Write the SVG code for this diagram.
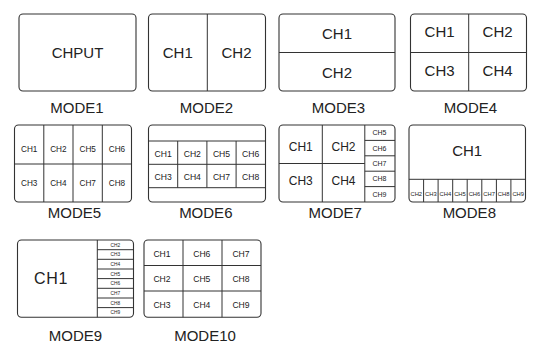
<svg xmlns="http://www.w3.org/2000/svg" width="556" height="349" viewBox="0 0 556 349">
<style>
.box{fill:#fff;stroke:#333;stroke-width:1.1}
.ln{stroke:#333;stroke-width:1;fill:none}
.t{font-family:"Liberation Sans",Arial,sans-serif;fill:#222;text-anchor:middle}
.cap{font-size:15px}
.big{font-size:15px}
.md{font-size:12px}
.sm{font-size:8.2px}
.xs{font-size:7px}
.xxs{font-size:5.8px}
.tiny{font-size:4.8px}
</style>
<rect width="556" height="349" fill="#fff"/>
<g id="mode1">
<rect class="box" x="19" y="14" width="117" height="77" rx="4"/>
<text class="t big" x="77.5" y="57.8">CHPUT</text>
<text class="t cap" x="77" y="112.5">MODE1</text>
</g>
<g id="mode2">
<rect class="box" x="148.5" y="14" width="117" height="77" rx="4"/>
<path class="ln" d="M207.3 14V91"/>
<text class="t big" x="177.8" y="57.8">CH1</text>
<text class="t big" x="236.5" y="57.8">CH2</text>
<text class="t cap" x="206.5" y="112.5">MODE2</text>
</g>
<g id="mode3">
<rect class="box" x="279" y="14" width="116" height="77" rx="4"/>
<path class="ln" d="M279 52.5H395"/>
<text class="t big" x="337" y="39.3">CH1</text>
<text class="t big" x="337" y="77.8">CH2</text>
<text class="t cap" x="338.5" y="112.5">MODE3</text>
</g>
<g id="mode4">
<rect class="box" x="410.5" y="14" width="116" height="77" rx="4"/>
<path class="ln" d="M468.7 14V91M410.5 52.5H526.5"/>
<text class="t big" x="439.6" y="37">CH1</text>
<text class="t big" x="497.6" y="37">CH2</text>
<text class="t big" x="439.6" y="75.5">CH3</text>
<text class="t big" x="497.6" y="75.5">CH4</text>
<text class="t cap" x="470.5" y="112.5">MODE4</text>
</g>
<g id="mode5">
<rect class="box" x="14.5" y="125" width="117" height="77" rx="4"/>
<path class="ln" d="M43.8 125V202M73 125V202M102.3 125V202M14.5 164H131.5"/>
<g class="t sm">
<text x="29.2" y="151.8">CH1</text><text x="58.4" y="151.8">CH2</text><text x="87.7" y="151.8">CH5</text><text x="117" y="151.8">CH6</text>
<text x="29.2" y="185.5">CH3</text><text x="58.4" y="185.5">CH4</text><text x="87.7" y="185.5">CH7</text><text x="117" y="185.5">CH8</text>
</g>
<text class="t cap" x="74.5" y="217.5">MODE5</text>
</g>
<g id="mode6">
<rect class="box" x="148.5" y="125" width="117" height="77" rx="4"/>
<path class="ln" d="M148.5 141H265.5M148.5 164.3H265.5M148.5 187.7H265.5M177.7 141V187.7M206.9 141V187.7M236.1 141V187.7"/>
<g class="t sm" style="font-size:8.6px">
<text x="163.1" y="157.3">CH1</text><text x="192.3" y="157.3">CH2</text><text x="221.5" y="157.3">CH5</text><text x="250.7" y="157.3">CH6</text>
<text x="163.1" y="179.8">CH3</text><text x="192.3" y="179.8">CH4</text><text x="221.5" y="179.8">CH7</text><text x="250.7" y="179.8">CH8</text>
</g>
<text class="t cap" x="205.8" y="217.5">MODE6</text>
</g>
<g id="mode7">
<rect class="box" x="279" y="125" width="116" height="77" rx="4"/>
<path class="ln" d="M322.3 125V202M364.8 125V202M279 163.5H364.8M364.8 140.4H395M364.8 155.8H395M364.8 171.2H395M364.8 186.6H395"/>
<text class="t md" x="300.8" y="151">CH1</text>
<text class="t md" x="343.5" y="151">CH2</text>
<text class="t md" x="300.8" y="185">CH3</text>
<text class="t md" x="343.5" y="185">CH4</text>
<g class="t xs">
<text x="379.5" y="135.2">CH5</text><text x="379.5" y="150.6">CH6</text><text x="379.5" y="166">CH7</text><text x="379.5" y="181.4">CH8</text><text x="379.5" y="196.8">CH9</text>
</g>
<text class="t cap" x="335.2" y="217.5">MODE7</text>
</g>
<g id="mode8">
<rect class="box" x="409" y="125" width="116.5" height="77" rx="4"/>
<path class="ln" d="M409 179.3H525.5M423.6 179.3V202M438.1 179.3V202M452.7 179.3V202M467.2 179.3V202M481.8 179.3V202M496.4 179.3V202M510.9 179.3V202"/>
<text class="t big" x="467.2" y="156">CH1</text>
<g class="t xxs">
<text x="416.3" y="195.5">CH2</text><text x="430.9" y="195.5">CH3</text><text x="445.4" y="195.5">CH4</text><text x="460" y="195.5">CH5</text><text x="474.5" y="195.5">CH6</text><text x="489.1" y="195.5">CH7</text><text x="503.6" y="195.5">CH8</text><text x="518.2" y="195.5">CH9</text>
</g>
<text class="t cap" x="469.3" y="217.5">MODE8</text>
</g>
<g id="mode9">
<rect class="box" x="17.5" y="240" width="116" height="77.3" rx="4"/>
<path class="ln" d="M97.3 240V317.3M97.3 249.7H133.5M97.3 259.3H133.5M97.3 269H133.5M97.3 278.6H133.5M97.3 288.3H133.5M97.3 298H133.5M97.3 307.6H133.5"/>
<text class="t big" x="51" y="284" style="font-size:16px;letter-spacing:0.6px">CH1</text>
<g class="t tiny">
<text x="115.4" y="246.6">CH2</text><text x="115.4" y="256.2">CH3</text><text x="115.4" y="265.9">CH4</text><text x="115.4" y="275.5">CH5</text><text x="115.4" y="285.2">CH6</text><text x="115.4" y="294.8">CH7</text><text x="115.4" y="304.5">CH8</text><text x="115.4" y="314.1">CH9</text>
</g>
<text class="t cap" x="75.5" y="340.5">MODE9</text>
</g>
<g id="mode10">
<rect class="box" x="144" y="240" width="117" height="77.3" rx="4"/>
<path class="ln" d="M183 240V317.3M222 240V317.3M144 265.5H261M144 291H261"/>
<g class="t sm" style="font-size:8.6px">
<text x="162" y="257">CH1</text><text x="201.8" y="257">CH6</text><text x="241" y="257">CH7</text>
<text x="162" y="282">CH2</text><text x="201.8" y="282">CH5</text><text x="241" y="282">CH8</text>
<text x="162" y="308">CH3</text><text x="201.8" y="308">CH4</text><text x="241" y="308">CH9</text>
</g>
<text class="t cap" x="205" y="340.5">MODE10</text>
</g>
<g id="connectors"></g>
</svg>
